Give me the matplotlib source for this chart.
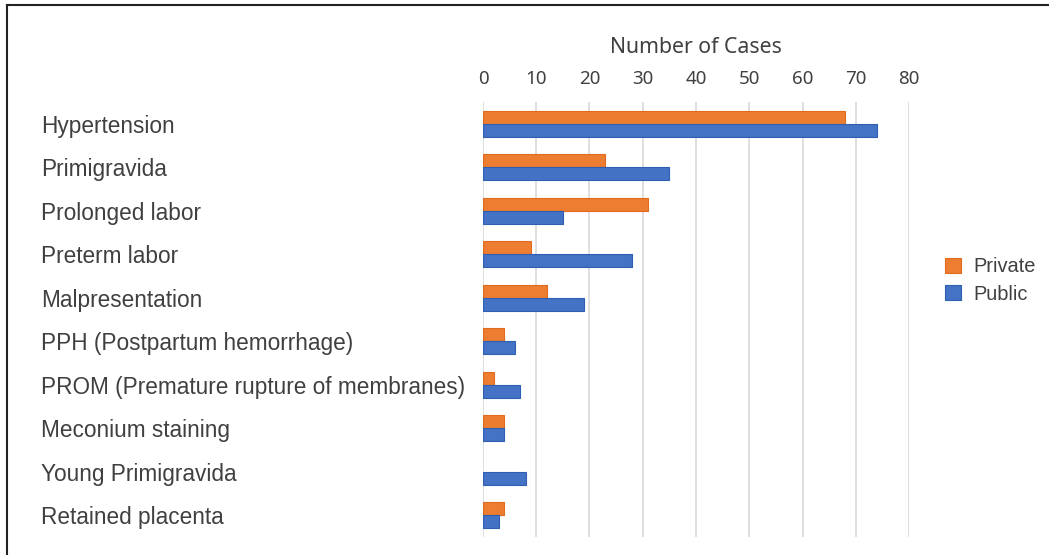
import numpy as np
import matplotlib.pyplot as plt
from matplotlib.lines import Line2D

plt.rcParams['font.family'] = ['Liberation Sans', 'DejaVu Sans']

# cases per complication
complications = [
    "Hypertension",
    "Primigravida",
    "Prolonged labor",
    "Preterm labor",
    "Malpresentation",
    "PPH (Postpartum hemorrhage)",
    "PROM (Premature rupture of membranes)",
    "Meconium staining",
    "Young Primigravida",
    "Retained placenta",
]
private_cases = [68, 23, 31, 9, 12, 4, 2, 4, 0, 4]
public_cases = [74, 35, 15, 28, 19, 6, 7, 4, 8, 3]
xticks = [0, 10, 20, 30, 40, 50, 60, 70, 80]

orange = "#ED7D31"
blue = "#4472C4"
text_col = "#404040"
num_font = ['Noto Sans', 'DejaVu Sans']

fig = plt.figure(figsize=(10.49, 5.55), dpi=100)
ax = fig.add_axes([0.4604, 0.0324, 0.4062, 0.7838])

y = np.arange(len(complications))
h = 0.3
# no outline on empty bars, so a zero count leaves nothing behind
lw_priv = [0.8 if v > 0 else 0 for v in private_cases]
lw_pub = [0.8 if v > 0 else 0 for v in public_cases]
ax.barh(y - h / 2, private_cases, height=h, color=orange, edgecolor="#E06A1E",
        linewidth=lw_priv, label="Private", zorder=3)
ax.barh(y + h / 2, public_cases, height=h, color=blue, edgecolor="#2F5FB3",
        linewidth=lw_pub, label="Public", zorder=3)

ax.set_xlim(0, 80)
ax.set_ylim(len(complications) - 0.5, -0.5)
ax.set_xticks(xticks)
ax.set_xticklabels([str(t) for t in xticks], family=num_font)
ax.xaxis.tick_top()
ax.xaxis.set_label_position("top")
ax.set_xlabel("Number of Cases", fontsize=15.3, color=text_col, labelpad=12,
              family=num_font)
ax.tick_params(axis="x", length=0, labelsize=13.5, labelcolor=text_col, pad=10)
ax.grid(axis="x", color="#d9d9d9", linewidth=1.2, zorder=0)

ax.set_yticks(y)
ax.set_yticklabels(complications, fontsize=16.3, color=text_col)
ax.tick_params(axis="y", length=0, pad=318)
for lbl in ax.get_yticklabels():
    lbl.set_horizontalalignment("left")

for s in ax.spines.values():
    s.set_visible(False)

ax.legend(loc="center left", bbox_to_anchor=(1.043, 0.59), frameon=False,
          fontsize=14.4, labelcolor=text_col, handlelength=0.8, handleheight=0.8,
          handletextpad=0.6, labelspacing=0.42)

# frame lines along the left and top edges
fig.add_artist(Line2D([0.0067, 0.0067], [0, 0.991], transform=fig.transFigure,
                      color="#222222", linewidth=1.5))
fig.add_artist(Line2D([0.0067, 1.0], [0.991, 0.991], transform=fig.transFigure,
                      color="#222222", linewidth=1.5))

fig.savefig("out.png", dpi=100)
